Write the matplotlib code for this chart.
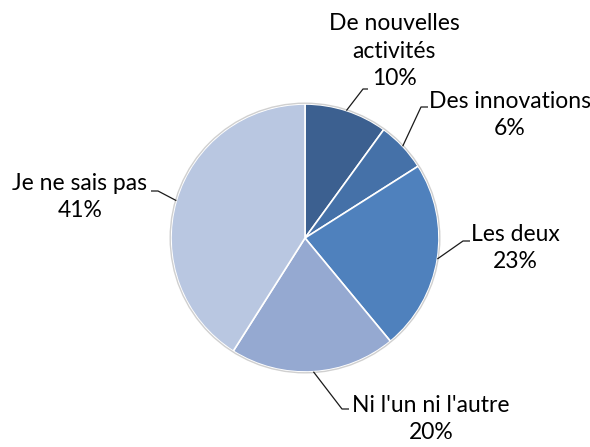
import numpy as np
import matplotlib
matplotlib.use("Agg")
import matplotlib.pyplot as plt

# --- data ---
labels = ["De nouvelles\nactivités", "Des innovations", "Les deux",
          "Ni l'un ni l'autre", "Je ne sais pas"]
values = [10, 6, 23, 20, 41]
colors = ["#3C6090", "#4571A8", "#4F81BD", "#95A9D1", "#B9C7E1"]

W, H = 590, 447
plt.rcParams["font.family"] = ["Lato", "DejaVu Sans"]

fig = plt.figure(figsize=(W / 100, H / 100), dpi=100)
ax = fig.add_axes([0, 0, 1, 1])

cx, cy, r = 305, H - 238, 134
wedges, _ = ax.pie(values, colors=colors, startangle=90, counterclock=False,
                   center=(cx, cy), radius=r, frame=True,
                   wedgeprops=dict(edgecolor="white", linewidth=1.2))
ax.set_xlim(0, W)
ax.set_ylim(0, H)
ax.set_aspect("equal")
ax.axis("off")
ax.add_patch(plt.Circle((cx, cy), r + 0.8, fill=False, edgecolor="#d0d0d0", lw=1.0))

# label layout (pixel coords, y from top): text centre, elbow, end of leader
layout = [
    ((394, 51), (363, 89), (368, 89)),
    ((510, 115), (421, 107), (428, 107)),
    ((515, 248), (463, 241), (470, 241)),
    ((431, 419), (342, 409), (349, 409)),
    ((80, 197), (158, 191), (151, 191)),
]

for w, lab, val, (txt, elbow, end) in zip(wedges, labels, values, layout):
    ang = np.deg2rad((w.theta1 + w.theta2) / 2)
    sx, sy = cx + r * np.cos(ang), cy + r * np.sin(ang)
    ax.plot([sx, elbow[0], end[0]], [sy, H - elbow[1], H - end[1]],
            color="#1a1a1a", lw=0.9, solid_capstyle="butt")
    ax.text(txt[0], H - txt[1], f"{lab}\n{val}%", ha="center", va="center",
            fontsize=16.5, linespacing=1.38, color="black")

fig.savefig("out.png", dpi=100)
